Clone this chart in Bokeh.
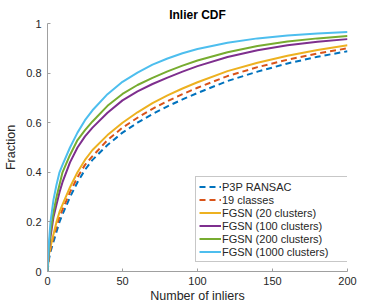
from bokeh.plotting import figure
from bokeh.models import FixedTicker, CustomJSTickFormatter, Legend, LegendItem
from bokeh.embed import file_html
from bokeh.resources import INLINE

# Number of inliers (x positions where values were read)
inliers = [0, 1, 2, 4, 6, 8, 10, 15, 20, 25, 30, 40, 50, 60, 70, 80, 90, 100, 120, 140, 160, 180, 200]

p3p_ransac = [0, 0.05, 0.08, 0.12, 0.16, 0.20, 0.23, 0.30, 0.36, 0.41, 0.45, 0.51, 0.56, 0.60, 0.635, 0.666, 0.694, 0.72, 0.768, 0.806, 0.839, 0.866, 0.888]
classes_19 = [0, 0.06, 0.09, 0.14, 0.18, 0.22, 0.25, 0.32, 0.38, 0.43, 0.465, 0.53, 0.58, 0.62, 0.656, 0.687, 0.715, 0.741, 0.788, 0.824, 0.854, 0.879, 0.90]
fgsn_20 = [0, 0.07, 0.10, 0.15, 0.20, 0.24, 0.27, 0.34, 0.40, 0.45, 0.49, 0.55, 0.60, 0.642, 0.679, 0.71, 0.738, 0.763, 0.808, 0.842, 0.87, 0.893, 0.912]
fgsn_100 = [0, 0.09, 0.14, 0.22, 0.27, 0.32, 0.36, 0.44, 0.50, 0.545, 0.58, 0.64, 0.69, 0.726, 0.756, 0.782, 0.806, 0.828, 0.865, 0.892, 0.912, 0.926, 0.937]
fgsn_200 = [0, 0.10, 0.16, 0.24, 0.30, 0.35, 0.40, 0.47, 0.53, 0.57, 0.605, 0.668, 0.716, 0.752, 0.781, 0.807, 0.83, 0.851, 0.884, 0.909, 0.927, 0.94, 0.95]
fgsn_1000 = [0, 0.12, 0.20, 0.29, 0.35, 0.40, 0.43, 0.50, 0.56, 0.61, 0.65, 0.715, 0.765, 0.802, 0.834, 0.859, 0.88, 0.897, 0.922, 0.94, 0.952, 0.96, 0.966]

series_names = ["P3P RANSAC", "19 classes", "FGSN (20 clusters)", "FGSN (100 clusters)",
                "FGSN (200 clusters)", "FGSN (1000 clusters)"]
series_values = [p3p_ransac, classes_19, fgsn_20, fgsn_100, fgsn_200, fgsn_1000]
colors = ["#0072BD", "#D95319", "#EDB120", "#7E2F8E", "#77AC30", "#4DBEEE"]
dashes = ["6 4", "6 4", "solid", "solid", "solid", "solid"]

x_ticks = [0, 50, 100, 150, 200]
y_ticks = [0, 0.2, 0.4, 0.6, 0.8, 1]

FONT = "Liberation Sans"
TXT = "#262626"

p = figure(width=381, height=306, x_range=(0, 200), y_range=(0, 1),
           output_backend="svg", toolbar_location=None, title="Inlier CDF",
           min_border_left=47, min_border_right=34, min_border_top=23, min_border_bottom=35)

p.title.align = "center"
p.title.text_font = FONT
p.title.text_font_size = "12px"
p.title.text_font_style = "bold"
p.title.text_color = "black"
p.title.standoff = 3
p.title.offset = 0

p.grid.visible = False
p.outline_line_color = None
p.background_fill_color = "white"
p.border_fill_color = "white"

for ax in (p.xaxis[0], p.yaxis[0]):
    ax.axis_line_color = "#a0a0a0"
    ax.major_tick_line_color = "#a0a0a0"
    ax.major_tick_in = 3
    ax.major_tick_out = 0
    ax.minor_tick_line_color = None
    ax.major_label_text_font = FONT
    ax.major_label_text_font_size = "11px"
    ax.major_label_text_color = TXT
    ax.axis_label_text_font = FONT
    ax.axis_label_text_font_size = "12.5px"
    ax.axis_label_text_font_style = "normal"
    ax.axis_label_text_color = TXT

p.xaxis.ticker = FixedTicker(ticks=x_ticks)
p.yaxis.ticker = FixedTicker(ticks=y_ticks)
p.yaxis.formatter = CustomJSTickFormatter(code="return tick.toFixed(1).replace(/\\.0$/, '');")
p.xaxis.axis_label = "Number of inliers"
p.yaxis.axis_label = "Fraction"
p.xaxis.major_label_standoff = 5
p.xaxis.axis_label_standoff = 1
p.yaxis.major_label_standoff = 6
p.yaxis.axis_label_standoff = 5

items = []
for name, vals, c, d in zip(series_names, series_values, colors, dashes):
    r = p.line(inliers, vals, line_color=c, line_width=2, line_dash=d)
    items.append(LegendItem(label=name, renderers=[r]))

legend = Legend(items=items, location=(148, 9))
legend.label_text_font = FONT
legend.label_text_font_size = "11px"
legend.label_text_color = TXT
legend.glyph_width = 22
legend.glyph_height = 13
legend.label_height = 13
legend.label_width = 128
legend.label_standoff = 1
legend.spacing = 0
legend.padding = 3
legend.margin = 0
legend.border_line_color = "#909090"
legend.border_line_width = 1
legend.background_fill_alpha = 1
p.add_layout(legend, "center")

open("out.html", "w").write(file_html(p, INLINE))
